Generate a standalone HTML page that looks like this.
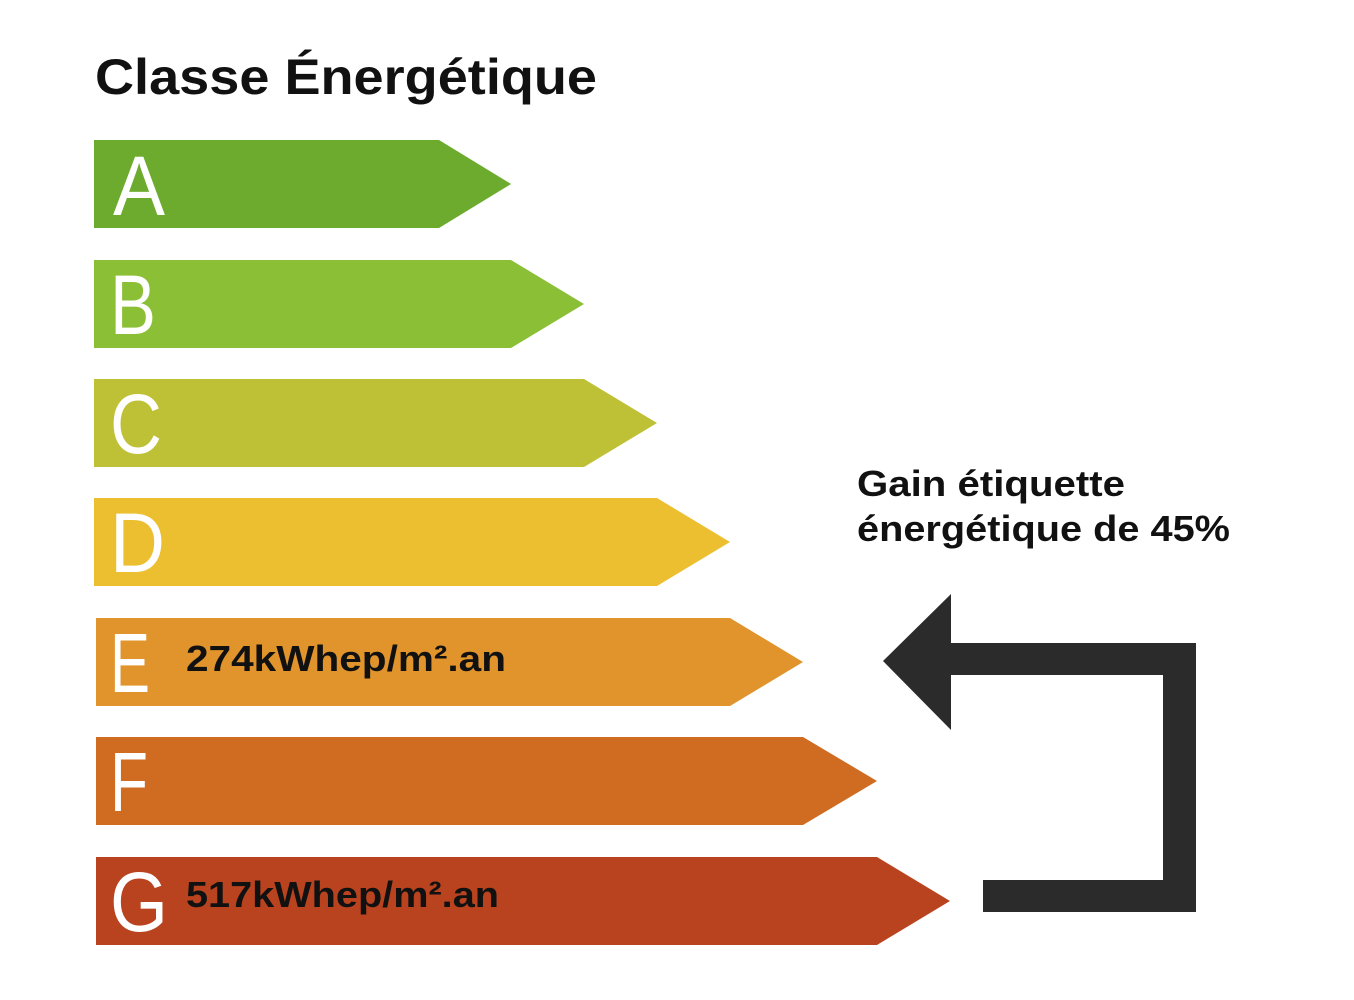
<!DOCTYPE html>
<html><head><meta charset="utf-8"><style>
html,body{margin:0;padding:0;background:#fff;width:1354px;height:1000px;overflow:hidden}
svg{display:block}
</style></head><body>
<svg width="1354" height="1000" xmlns="http://www.w3.org/2000/svg">
<text x="95" y="94" font-family="Liberation Sans, sans-serif" font-weight="bold" font-size="50" fill="#111" textLength="502" lengthAdjust="spacingAndGlyphs">Classe Énergétique</text>
<polygon points="94,140 439,140 511,184 439,228 94,228" fill="#6cab2d"/>
<polygon points="94,260 511,260 584,304 511,348 94,348" fill="#8bbf35"/>
<polygon points="94,379 584,379 657,423 584,467 94,467" fill="#bec136"/>
<polygon points="94,498 657,498 730,542 657,586 94,586" fill="#ecbf31"/>
<polygon points="96,618 730,618 803,662 730,706 96,706" fill="#e1942b"/>
<polygon points="96,737 803,737 877,781 803,825 96,825" fill="#cf6c22"/>
<polygon points="96,857 877,857 950,901 877,945 96,945" fill="#b9431f"/>
<g font-family="Liberation Sans, sans-serif" font-size="84" fill="#fff">
<text x="113" y="215" textLength="52" lengthAdjust="spacingAndGlyphs">A</text>
<text x="110" y="334" textLength="46" lengthAdjust="spacingAndGlyphs">B</text>
<text x="110" y="453" textLength="52" lengthAdjust="spacingAndGlyphs">C</text>
<text x="110" y="572" textLength="55" lengthAdjust="spacingAndGlyphs">D</text>
<text x="110" y="692" textLength="40" lengthAdjust="spacingAndGlyphs">E</text>
<text x="110" y="811" textLength="38" lengthAdjust="spacingAndGlyphs">F</text>
<text x="110" y="931" textLength="58" lengthAdjust="spacingAndGlyphs">G</text>
</g>
<g font-family="Liberation Sans, sans-serif" font-weight="bold" font-size="36" fill="#111">
<text x="186" y="671" textLength="320" lengthAdjust="spacingAndGlyphs">274kWhep/m².an</text>
<text x="186" y="907" textLength="313" lengthAdjust="spacingAndGlyphs">517kWhep/m².an</text>
<text x="857" y="496" textLength="268" lengthAdjust="spacingAndGlyphs">Gain étiquette</text>
<text x="857" y="541" textLength="373" lengthAdjust="spacingAndGlyphs">énergétique de 45%</text>
</g>
<path d="M983,880 L1163,880 L1163,675 L950,675 L950,643 L1196,643 L1196,912 L983,912 Z" fill="#2b2b2b"/>
<polygon points="883,661 951,594 951,730" fill="#2b2b2b"/>
</svg>
</body></html>
